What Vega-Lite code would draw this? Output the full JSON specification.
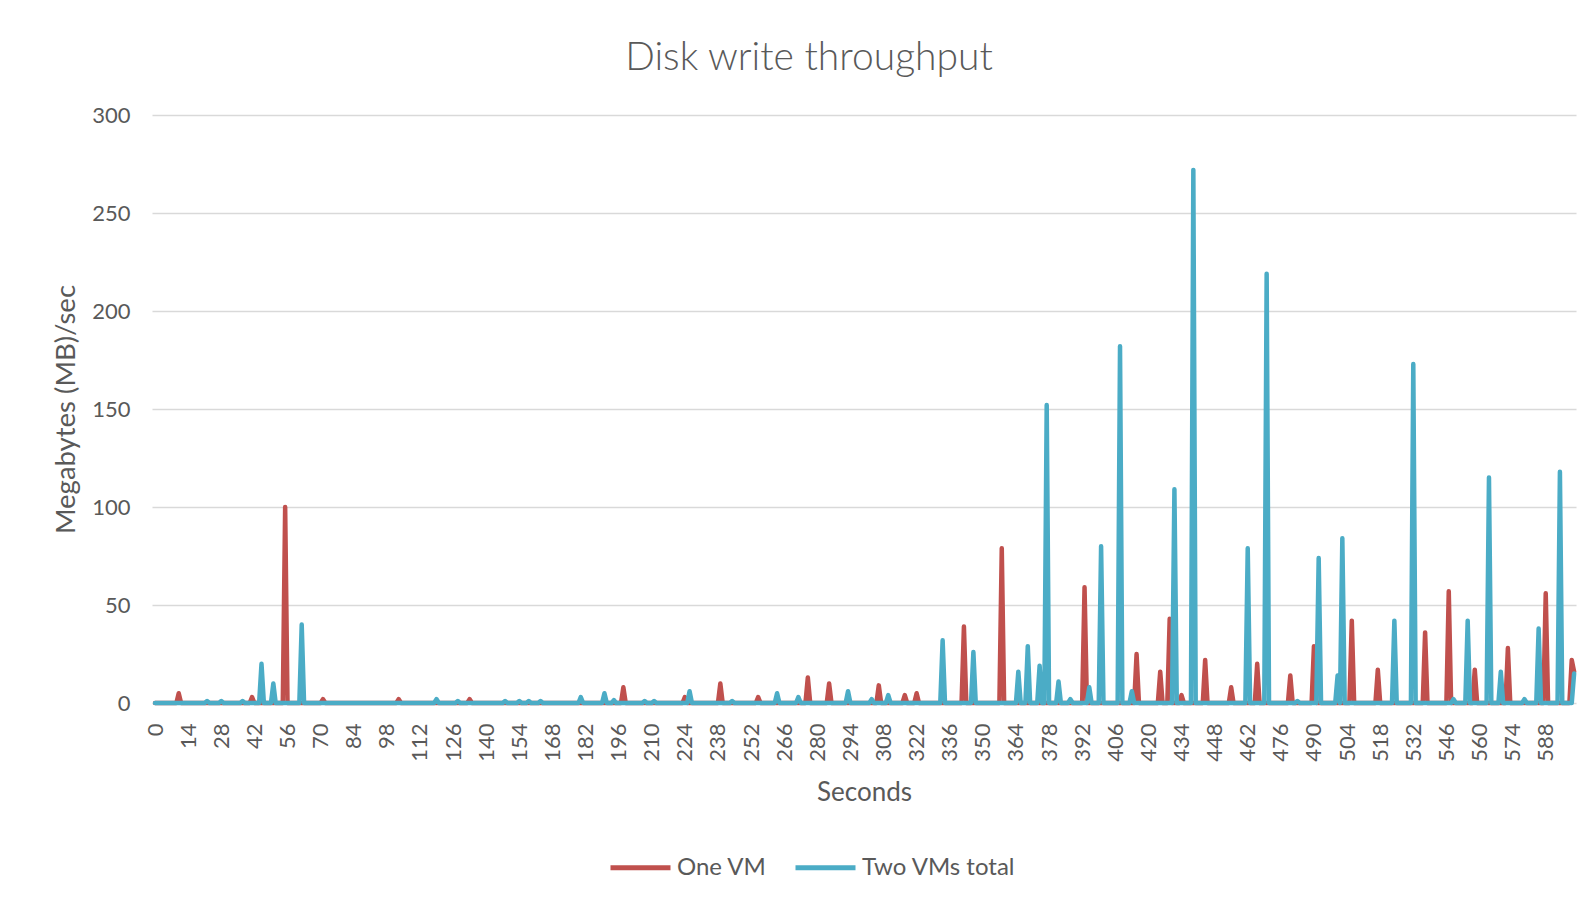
{
  "$schema": "https://vega.github.io/schema/vega-lite/v6.json",
  "description": "Disk write throughput per second, one VM versus two VMs combined.",
  "width": 1424,
  "height": 588,
  "autosize": {"type": "none"},
  "padding": {"left": 152, "top": 115, "right": 14, "bottom": 200},
  "background": "white",
  "title": {
    "text": "Disk write throughput",
    "anchor": "middle",
    "frame": "group",
    "dx": -55,
    "dy": 41,
    "offset": 36,
    "baseline": "alphabetic",
    "font": "Lato",
    "fontSize": 39,
    "fontWeight": 300,
    "color": "#595959"
  },
  "datasets": {
    "throughput": [
      {"series": "One VM", "second": 0, "mbps": 0},
      {"series": "One VM", "second": 9, "mbps": 0},
      {"series": "One VM", "second": 10, "mbps": 5},
      {"series": "One VM", "second": 11, "mbps": 0},
      {"series": "One VM", "second": 40, "mbps": 0},
      {"series": "One VM", "second": 41, "mbps": 3},
      {"series": "One VM", "second": 42, "mbps": 0},
      {"series": "One VM", "second": 54, "mbps": 0},
      {"series": "One VM", "second": 55, "mbps": 100},
      {"series": "One VM", "second": 56, "mbps": 0},
      {"series": "One VM", "second": 70, "mbps": 0},
      {"series": "One VM", "second": 71, "mbps": 2},
      {"series": "One VM", "second": 72, "mbps": 0},
      {"series": "One VM", "second": 102, "mbps": 0},
      {"series": "One VM", "second": 103, "mbps": 2},
      {"series": "One VM", "second": 104, "mbps": 0},
      {"series": "One VM", "second": 132, "mbps": 0},
      {"series": "One VM", "second": 133, "mbps": 2},
      {"series": "One VM", "second": 134, "mbps": 0},
      {"series": "One VM", "second": 197, "mbps": 0},
      {"series": "One VM", "second": 198, "mbps": 8},
      {"series": "One VM", "second": 199, "mbps": 0},
      {"series": "One VM", "second": 223, "mbps": 0},
      {"series": "One VM", "second": 224, "mbps": 3},
      {"series": "One VM", "second": 225, "mbps": 0},
      {"series": "One VM", "second": 238, "mbps": 0},
      {"series": "One VM", "second": 239, "mbps": 10},
      {"series": "One VM", "second": 240, "mbps": 0},
      {"series": "One VM", "second": 254, "mbps": 0},
      {"series": "One VM", "second": 255, "mbps": 3},
      {"series": "One VM", "second": 256, "mbps": 0},
      {"series": "One VM", "second": 275, "mbps": 0},
      {"series": "One VM", "second": 276, "mbps": 13},
      {"series": "One VM", "second": 277, "mbps": 0},
      {"series": "One VM", "second": 284, "mbps": 0},
      {"series": "One VM", "second": 285, "mbps": 10},
      {"series": "One VM", "second": 286, "mbps": 0},
      {"series": "One VM", "second": 305, "mbps": 0},
      {"series": "One VM", "second": 306, "mbps": 9},
      {"series": "One VM", "second": 307, "mbps": 0},
      {"series": "One VM", "second": 316, "mbps": 0},
      {"series": "One VM", "second": 317, "mbps": 4},
      {"series": "One VM", "second": 318, "mbps": 0},
      {"series": "One VM", "second": 321, "mbps": 0},
      {"series": "One VM", "second": 322, "mbps": 5},
      {"series": "One VM", "second": 323, "mbps": 0},
      {"series": "One VM", "second": 341, "mbps": 0},
      {"series": "One VM", "second": 342, "mbps": 39},
      {"series": "One VM", "second": 343, "mbps": 0},
      {"series": "One VM", "second": 357, "mbps": 0},
      {"series": "One VM", "second": 358, "mbps": 79},
      {"series": "One VM", "second": 359, "mbps": 0},
      {"series": "One VM", "second": 392, "mbps": 0},
      {"series": "One VM", "second": 393, "mbps": 59},
      {"series": "One VM", "second": 394, "mbps": 0},
      {"series": "One VM", "second": 414, "mbps": 0},
      {"series": "One VM", "second": 415, "mbps": 25},
      {"series": "One VM", "second": 416, "mbps": 0},
      {"series": "One VM", "second": 424, "mbps": 0},
      {"series": "One VM", "second": 425, "mbps": 16},
      {"series": "One VM", "second": 426, "mbps": 0},
      {"series": "One VM", "second": 428, "mbps": 0},
      {"series": "One VM", "second": 429, "mbps": 43},
      {"series": "One VM", "second": 430, "mbps": 0},
      {"series": "One VM", "second": 433, "mbps": 0},
      {"series": "One VM", "second": 434, "mbps": 4},
      {"series": "One VM", "second": 435, "mbps": 0},
      {"series": "One VM", "second": 443, "mbps": 0},
      {"series": "One VM", "second": 444, "mbps": 22},
      {"series": "One VM", "second": 445, "mbps": 0},
      {"series": "One VM", "second": 454, "mbps": 0},
      {"series": "One VM", "second": 455, "mbps": 8},
      {"series": "One VM", "second": 456, "mbps": 0},
      {"series": "One VM", "second": 465, "mbps": 0},
      {"series": "One VM", "second": 466, "mbps": 20},
      {"series": "One VM", "second": 467, "mbps": 0},
      {"series": "One VM", "second": 479, "mbps": 0},
      {"series": "One VM", "second": 480, "mbps": 14},
      {"series": "One VM", "second": 481, "mbps": 0},
      {"series": "One VM", "second": 489, "mbps": 0},
      {"series": "One VM", "second": 490, "mbps": 29},
      {"series": "One VM", "second": 491, "mbps": 0},
      {"series": "One VM", "second": 505, "mbps": 0},
      {"series": "One VM", "second": 506, "mbps": 42},
      {"series": "One VM", "second": 507, "mbps": 0},
      {"series": "One VM", "second": 516, "mbps": 0},
      {"series": "One VM", "second": 517, "mbps": 17},
      {"series": "One VM", "second": 518, "mbps": 0},
      {"series": "One VM", "second": 536, "mbps": 0},
      {"series": "One VM", "second": 537, "mbps": 36},
      {"series": "One VM", "second": 538, "mbps": 0},
      {"series": "One VM", "second": 546, "mbps": 0},
      {"series": "One VM", "second": 547, "mbps": 57},
      {"series": "One VM", "second": 548, "mbps": 0},
      {"series": "One VM", "second": 557, "mbps": 0},
      {"series": "One VM", "second": 558, "mbps": 17},
      {"series": "One VM", "second": 559, "mbps": 0},
      {"series": "One VM", "second": 571, "mbps": 0},
      {"series": "One VM", "second": 572, "mbps": 28},
      {"series": "One VM", "second": 573, "mbps": 0},
      {"series": "One VM", "second": 587, "mbps": 0},
      {"series": "One VM", "second": 588, "mbps": 56},
      {"series": "One VM", "second": 589, "mbps": 0},
      {"series": "One VM", "second": 598, "mbps": 0},
      {"series": "One VM", "second": 599, "mbps": 22},
      {"series": "One VM", "second": 600, "mbps": 16},

      {"series": "Two VMs total", "second": 0, "mbps": 0},
      {"series": "Two VMs total", "second": 21, "mbps": 0},
      {"series": "Two VMs total", "second": 22, "mbps": 1},
      {"series": "Two VMs total", "second": 23, "mbps": 0},
      {"series": "Two VMs total", "second": 27, "mbps": 0},
      {"series": "Two VMs total", "second": 28, "mbps": 1},
      {"series": "Two VMs total", "second": 29, "mbps": 0},
      {"series": "Two VMs total", "second": 36, "mbps": 0},
      {"series": "Two VMs total", "second": 37, "mbps": 1},
      {"series": "Two VMs total", "second": 38, "mbps": 0},
      {"series": "Two VMs total", "second": 44, "mbps": 0},
      {"series": "Two VMs total", "second": 45, "mbps": 20},
      {"series": "Two VMs total", "second": 46, "mbps": 0},
      {"series": "Two VMs total", "second": 49, "mbps": 0},
      {"series": "Two VMs total", "second": 50, "mbps": 10},
      {"series": "Two VMs total", "second": 51, "mbps": 0},
      {"series": "Two VMs total", "second": 61, "mbps": 0},
      {"series": "Two VMs total", "second": 62, "mbps": 40},
      {"series": "Two VMs total", "second": 63, "mbps": 0},
      {"series": "Two VMs total", "second": 118, "mbps": 0},
      {"series": "Two VMs total", "second": 119, "mbps": 2},
      {"series": "Two VMs total", "second": 120, "mbps": 0},
      {"series": "Two VMs total", "second": 127, "mbps": 0},
      {"series": "Two VMs total", "second": 128, "mbps": 1},
      {"series": "Two VMs total", "second": 129, "mbps": 0},
      {"series": "Two VMs total", "second": 147, "mbps": 0},
      {"series": "Two VMs total", "second": 148, "mbps": 1},
      {"series": "Two VMs total", "second": 149, "mbps": 0},
      {"series": "Two VMs total", "second": 153, "mbps": 0},
      {"series": "Two VMs total", "second": 154, "mbps": 1},
      {"series": "Two VMs total", "second": 155, "mbps": 0},
      {"series": "Two VMs total", "second": 157, "mbps": 0},
      {"series": "Two VMs total", "second": 158, "mbps": 1},
      {"series": "Two VMs total", "second": 159, "mbps": 0},
      {"series": "Two VMs total", "second": 162, "mbps": 0},
      {"series": "Two VMs total", "second": 163, "mbps": 1},
      {"series": "Two VMs total", "second": 164, "mbps": 0},
      {"series": "Two VMs total", "second": 179, "mbps": 0},
      {"series": "Two VMs total", "second": 180, "mbps": 3},
      {"series": "Two VMs total", "second": 181, "mbps": 0},
      {"series": "Two VMs total", "second": 189, "mbps": 0},
      {"series": "Two VMs total", "second": 190, "mbps": 5},
      {"series": "Two VMs total", "second": 191, "mbps": 0},
      {"series": "Two VMs total", "second": 193, "mbps": 0},
      {"series": "Two VMs total", "second": 194, "mbps": 1.5},
      {"series": "Two VMs total", "second": 195, "mbps": 0},
      {"series": "Two VMs total", "second": 206, "mbps": 0},
      {"series": "Two VMs total", "second": 207, "mbps": 1},
      {"series": "Two VMs total", "second": 208, "mbps": 0},
      {"series": "Two VMs total", "second": 210, "mbps": 0},
      {"series": "Two VMs total", "second": 211, "mbps": 1},
      {"series": "Two VMs total", "second": 212, "mbps": 0},
      {"series": "Two VMs total", "second": 225, "mbps": 0},
      {"series": "Two VMs total", "second": 226, "mbps": 6},
      {"series": "Two VMs total", "second": 227, "mbps": 0},
      {"series": "Two VMs total", "second": 243, "mbps": 0},
      {"series": "Two VMs total", "second": 244, "mbps": 1},
      {"series": "Two VMs total", "second": 245, "mbps": 0},
      {"series": "Two VMs total", "second": 262, "mbps": 0},
      {"series": "Two VMs total", "second": 263, "mbps": 5},
      {"series": "Two VMs total", "second": 264, "mbps": 0},
      {"series": "Two VMs total", "second": 271, "mbps": 0},
      {"series": "Two VMs total", "second": 272, "mbps": 3},
      {"series": "Two VMs total", "second": 273, "mbps": 0},
      {"series": "Two VMs total", "second": 292, "mbps": 0},
      {"series": "Two VMs total", "second": 293, "mbps": 6},
      {"series": "Two VMs total", "second": 294, "mbps": 0},
      {"series": "Two VMs total", "second": 302, "mbps": 0},
      {"series": "Two VMs total", "second": 303, "mbps": 2},
      {"series": "Two VMs total", "second": 304, "mbps": 0},
      {"series": "Two VMs total", "second": 309, "mbps": 0},
      {"series": "Two VMs total", "second": 310, "mbps": 4},
      {"series": "Two VMs total", "second": 311, "mbps": 0},
      {"series": "Two VMs total", "second": 332, "mbps": 0},
      {"series": "Two VMs total", "second": 333, "mbps": 32},
      {"series": "Two VMs total", "second": 334, "mbps": 0},
      {"series": "Two VMs total", "second": 345, "mbps": 0},
      {"series": "Two VMs total", "second": 346, "mbps": 26},
      {"series": "Two VMs total", "second": 347, "mbps": 0},
      {"series": "Two VMs total", "second": 364, "mbps": 0},
      {"series": "Two VMs total", "second": 365, "mbps": 16},
      {"series": "Two VMs total", "second": 366, "mbps": 0},
      {"series": "Two VMs total", "second": 368, "mbps": 0},
      {"series": "Two VMs total", "second": 369, "mbps": 29},
      {"series": "Two VMs total", "second": 370, "mbps": 0},
      {"series": "Two VMs total", "second": 373, "mbps": 0},
      {"series": "Two VMs total", "second": 374, "mbps": 19},
      {"series": "Two VMs total", "second": 375, "mbps": 0},
      {"series": "Two VMs total", "second": 376, "mbps": 0},
      {"series": "Two VMs total", "second": 377, "mbps": 152},
      {"series": "Two VMs total", "second": 378, "mbps": 0},
      {"series": "Two VMs total", "second": 381, "mbps": 0},
      {"series": "Two VMs total", "second": 382, "mbps": 11},
      {"series": "Two VMs total", "second": 383, "mbps": 0},
      {"series": "Two VMs total", "second": 386, "mbps": 0},
      {"series": "Two VMs total", "second": 387, "mbps": 2},
      {"series": "Two VMs total", "second": 388, "mbps": 0},
      {"series": "Two VMs total", "second": 394, "mbps": 0},
      {"series": "Two VMs total", "second": 395, "mbps": 8},
      {"series": "Two VMs total", "second": 396, "mbps": 0},
      {"series": "Two VMs total", "second": 399, "mbps": 0},
      {"series": "Two VMs total", "second": 400, "mbps": 80},
      {"series": "Two VMs total", "second": 401, "mbps": 0},
      {"series": "Two VMs total", "second": 407, "mbps": 0},
      {"series": "Two VMs total", "second": 408, "mbps": 182},
      {"series": "Two VMs total", "second": 409, "mbps": 0},
      {"series": "Two VMs total", "second": 412, "mbps": 0},
      {"series": "Two VMs total", "second": 413, "mbps": 6},
      {"series": "Two VMs total", "second": 414, "mbps": 0},
      {"series": "Two VMs total", "second": 430, "mbps": 0},
      {"series": "Two VMs total", "second": 431, "mbps": 109},
      {"series": "Two VMs total", "second": 432, "mbps": 0},
      {"series": "Two VMs total", "second": 438, "mbps": 0},
      {"series": "Two VMs total", "second": 439, "mbps": 272},
      {"series": "Two VMs total", "second": 440, "mbps": 0},
      {"series": "Two VMs total", "second": 461, "mbps": 0},
      {"series": "Two VMs total", "second": 462, "mbps": 79},
      {"series": "Two VMs total", "second": 463, "mbps": 0},
      {"series": "Two VMs total", "second": 469, "mbps": 0},
      {"series": "Two VMs total", "second": 470, "mbps": 219},
      {"series": "Two VMs total", "second": 471, "mbps": 0},
      {"series": "Two VMs total", "second": 482, "mbps": 0},
      {"series": "Two VMs total", "second": 483, "mbps": 1},
      {"series": "Two VMs total", "second": 484, "mbps": 0},
      {"series": "Two VMs total", "second": 491, "mbps": 0},
      {"series": "Two VMs total", "second": 492, "mbps": 74},
      {"series": "Two VMs total", "second": 493, "mbps": 0},
      {"series": "Two VMs total", "second": 499, "mbps": 0},
      {"series": "Two VMs total", "second": 500, "mbps": 14},
      {"series": "Two VMs total", "second": 501, "mbps": 0},
      {"series": "Two VMs total", "second": 502, "mbps": 84},
      {"series": "Two VMs total", "second": 503, "mbps": 0},
      {"series": "Two VMs total", "second": 523, "mbps": 0},
      {"series": "Two VMs total", "second": 524, "mbps": 42},
      {"series": "Two VMs total", "second": 525, "mbps": 0},
      {"series": "Two VMs total", "second": 531, "mbps": 0},
      {"series": "Two VMs total", "second": 532, "mbps": 173},
      {"series": "Two VMs total", "second": 533, "mbps": 0},
      {"series": "Two VMs total", "second": 548, "mbps": 0},
      {"series": "Two VMs total", "second": 549, "mbps": 2},
      {"series": "Two VMs total", "second": 550, "mbps": 0},
      {"series": "Two VMs total", "second": 554, "mbps": 0},
      {"series": "Two VMs total", "second": 555, "mbps": 42},
      {"series": "Two VMs total", "second": 556, "mbps": 0},
      {"series": "Two VMs total", "second": 563, "mbps": 0},
      {"series": "Two VMs total", "second": 564, "mbps": 115},
      {"series": "Two VMs total", "second": 565, "mbps": 0},
      {"series": "Two VMs total", "second": 568, "mbps": 0},
      {"series": "Two VMs total", "second": 569, "mbps": 16},
      {"series": "Two VMs total", "second": 570, "mbps": 0},
      {"series": "Two VMs total", "second": 578, "mbps": 0},
      {"series": "Two VMs total", "second": 579, "mbps": 2},
      {"series": "Two VMs total", "second": 580, "mbps": 0},
      {"series": "Two VMs total", "second": 584, "mbps": 0},
      {"series": "Two VMs total", "second": 585, "mbps": 38},
      {"series": "Two VMs total", "second": 586, "mbps": 0},
      {"series": "Two VMs total", "second": 593, "mbps": 0},
      {"series": "Two VMs total", "second": 594, "mbps": 118},
      {"series": "Two VMs total", "second": 595, "mbps": 0},
      {"series": "Two VMs total", "second": 599, "mbps": 0},
      {"series": "Two VMs total", "second": 600, "mbps": 15}
    ]
  },
  "data": {"name": "throughput"},
  "mark": {
    "type": "line",
    "strokeWidth": 4.5,
    "strokeCap": "round",
    "strokeJoin": "round"
  },
  "encoding": {
    "x": {
      "field": "second",
      "type": "quantitative",
      "scale": {"domain": [-1.3, 600.8], "nice": false, "zero": false},
      "axis": {
        "values": [0, 14, 28, 42, 56, 70, 84, 98, 112, 126, 140, 154, 168, 182, 196, 210, 224, 238, 252, 266, 280, 294, 308, 322, 336, 350, 364, 378, 392, 406, 420, 434, 448, 462, 476, 490, 504, 518, 532, 546, 560, 574, 588],
        "labelAngle": -90,
        "labelOverlap": false,
        "labelBound": false,
        "labelFlush": false,
        "grid": false,
        "ticks": false,
        "tickSize": 0,
        "domain": false,
        "labelPadding": 20,
        "labelFont": "Lato",
        "labelFontSize": 22,
        "labelColor": "#595959",
        "title": "Seconds",
        "titleFont": "Lato",
        "titleFontSize": 26,
        "titleFontWeight": "normal",
        "titleColor": "#595959",
        "titlePadding": 18
      }
    },
    "y": {
      "field": "mbps",
      "type": "quantitative",
      "scale": {"domain": [0, 300], "nice": false},
      "axis": {
        "values": [0, 50, 100, 150, 200, 250, 300],
        "grid": true,
        "gridColor": "#D9D9D9",
        "gridWidth": 1.5,
        "ticks": false,
        "tickSize": 0,
        "domain": false,
        "labelPadding": 22,
        "labelFont": "Lato",
        "labelFontSize": 22,
        "labelColor": "#595959",
        "title": "Megabytes (MB)/sec",
        "titleFont": "Lato",
        "titleFontSize": 27.5,
        "titleFontWeight": "normal",
        "titleColor": "#595959",
        "titlePadding": 11
      }
    },
    "color": {
      "field": "series",
      "type": "nominal",
      "scale": {"domain": ["One VM", "Two VMs total"], "range": ["#C0504D", "#4BACC6"]},
      "legend": {
        "title": null,
        "orient": "none",
        "legendX": 456,
        "legendY": 720,
        "direction": "horizontal",
        "symbolType": "stroke",
        "symbolSize": 3600,
        "symbolStrokeWidth": 5,
        "labelFont": "Lato",
        "labelFontSize": 24,
        "labelColor": "#595959",
        "labelOffset": 4,
        "columnPadding": 18
      }
    }
  },
  "config": {"view": {"stroke": null}}
}
